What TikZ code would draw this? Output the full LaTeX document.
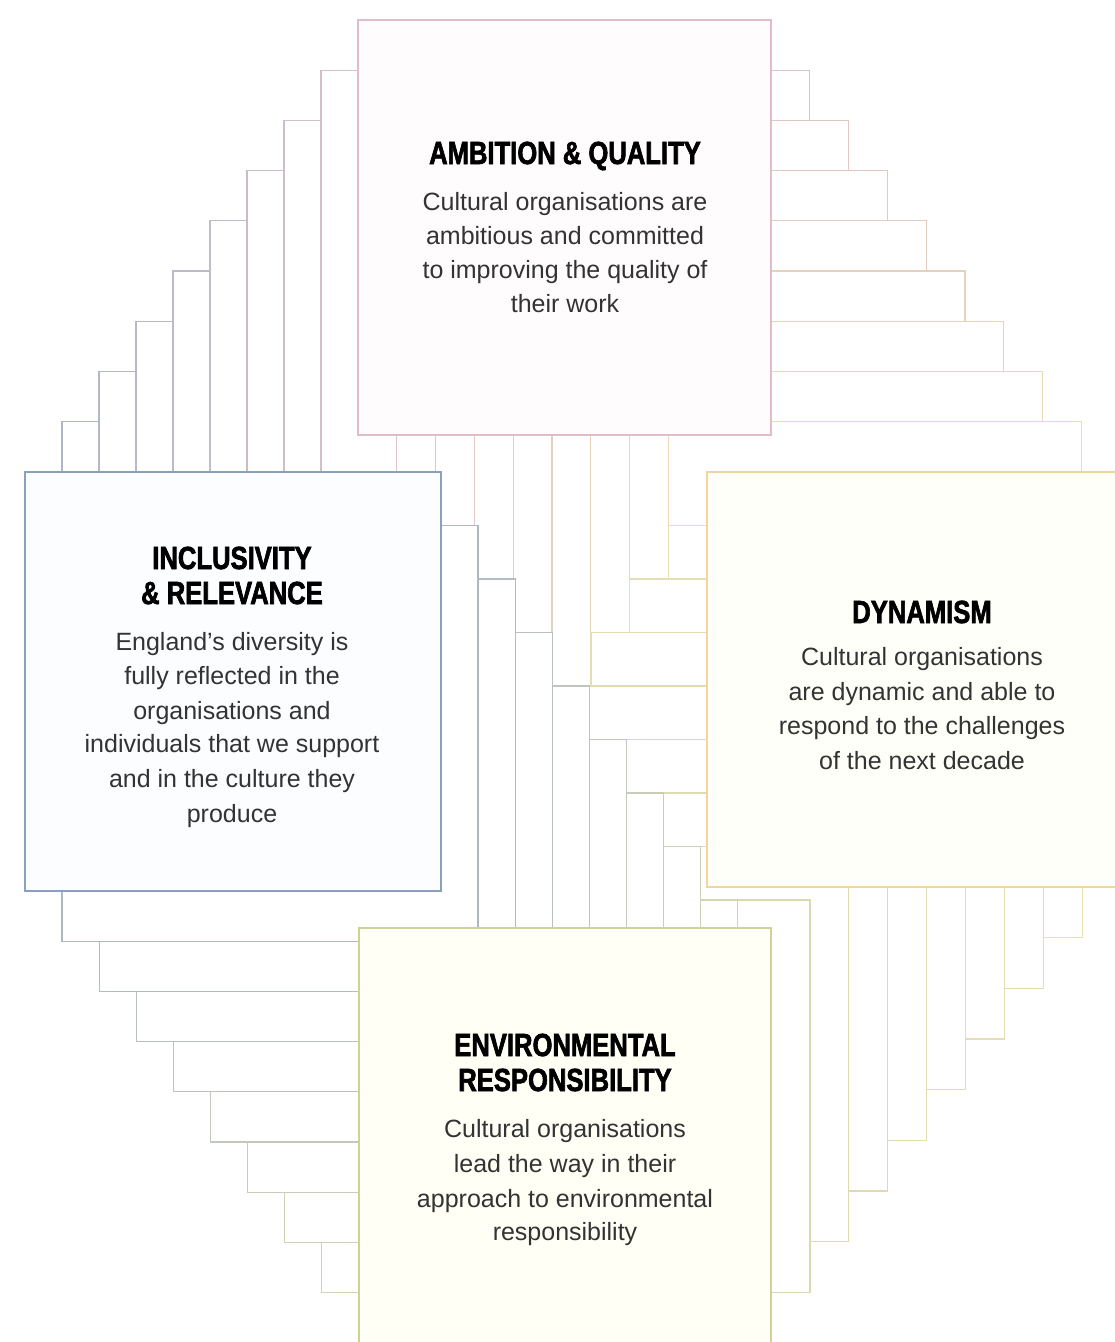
\documentclass[tikz,border=0pt]{standalone}
\usepackage{fontspec}
\setmainfont{Liberation Sans}
\newfontfamily\titlefont[FakeStretch=0.8,FakeBold=2]{Liberation Sans}
\definecolor{pinkB}{RGB}{226,188,200}
\definecolor{blueB}{RGB}{138,160,192}
\definecolor{goldB}{RGB}{240,214,158}
\definecolor{oliveB}{RGB}{206,210,148}
\definecolor{pinkL}{RGB}{218,192,202}
\definecolor{blueL}{RGB}{168,180,198}
\definecolor{goldL}{RGB}{236,222,180}
\definecolor{oliveL}{RGB}{216,218,176}
\definecolor{pinkF}{RGB}{254,252,253}
\definecolor{blueF}{RGB}{251,253,255}
\definecolor{goldF}{RGB}{255,255,250}
\definecolor{oliveF}{RGB}{255,255,246}
\tikzset{
  trail/.style={line width=1.3pt, fill=white},
  mainbox/.style={rectangle, line width=2.3pt, inner sep=0pt, outer sep=0pt, anchor=north west,
    minimum width=413pt, minimum height=415pt},
  ttl/.style={font=\titlefont\bfseries\fontsize{32}{35}\selectfont, text=black, anchor=base, inner sep=0pt},
  body/.style={font=\fontsize{25}{34}\selectfont, text=black!80, anchor=base, inner sep=0pt},
}
\begin{document}
\begin{tikzpicture}[x=1pt,y=-1pt]
\useasboundingbox (0,0) rectangle (1115,1342);
\fill[white] (0,0) rectangle (1115,1342);
\clip (0,0) rectangle (1115,1342);
% trail: top -> left (nearer top on top)
\foreach \i in {8,7,...,1}{
  \pgfmathsetmacro\xa{358-37*\i}
  \pgfmathsetmacro\ya{20+50.2*\i}
  \pgfmathtruncatemacro\p{100*\i/9}
  \colorlet{tc}{blueL!\p!pinkL}
  \draw[trail, draw=tc] (\xa,\ya) rectangle ++(413,415);
}
% trail: right -> top (nearer right on top)
\foreach \j in {1,...,8}{
  \pgfmathsetmacro\xa{358+38.8*\j}
  \pgfmathsetmacro\ya{20+50.2*\j}
  \pgfmathtruncatemacro\p{100*\j/9}
  \colorlet{tc}{goldL!\p!pinkL}
  \draw[trail, draw=tc] (\xa,\ya) rectangle ++(413,415);
}
% trail: bottom -> right (nearer bottom on top)
\foreach \m in {8,7,...,1}{
  \pgfmathsetmacro\xl{359+38.67*\m}
  \pgfmathsetmacro\xr{771+38.9*\m}
  \pgfmathsetmacro\yt{953.5-53.5*\m}
  \pgfmathsetmacro\yb{1343-50.67*\m}
  \pgfmathtruncatemacro\p{100*\m/9}
  \colorlet{tc}{goldL!\p!oliveL}
  \draw[trail, draw=tc] (\xl,\yt) rectangle (\xr,\yb);
}
% trail: left -> bottom (nearer left on top)
\foreach \k in {8,7,...,1}{
  \pgfmathsetmacro\xl{25+37.1*\k}
  \pgfmathsetmacro\xr{441+37.1*\k}
  \pgfmathsetmacro\yt{472+53.5*\k}
  \pgfmathsetmacro\yb{891+50.2*\k}
  \pgfmathtruncatemacro\p{100*\k/9}
  \colorlet{tc}{oliveL!\p!blueL}
  \draw[trail, draw=tc] (\xl,\yt) rectangle (\xr,\yb);
}
% main boxes
\node[mainbox, draw=pinkB, fill=pinkF] (amb) at (358,20) {};
\node[mainbox, draw=blueB, fill=blueF, minimum width=416pt, minimum height=419pt] (inc) at (25,472) {};
\node[mainbox, draw=goldB, fill=goldF, minimum width=414pt] (dyn) at (707,472) {};
\node[mainbox, draw=oliveB, fill=oliveF, minimum width=412pt] (env) at (359,928) {};
% texts: ambition
\node[ttl] (ambT) at (565,164) {AMBITION \& QUALITY};
\node[body] (amb1) at (565,210) {Cultural organisations are};
\node[body] (amb2) at (565,244) {ambitious and committed};
\node[body] (amb3) at (565,278) {to improving the quality of};
\node[body] (amb4) at (565,312) {their work};
% inclusivity
\node[ttl] (incT1) at (232,569) {INCLUSIVITY};
\node[ttl] (incT2) at (232,604) {\& RELEVANCE};
\node[body] (inc1) at (232,650) {England's diversity is};
\node[body] (inc2) at (232,684) {fully reflected in the};
\node[body] (inc3) at (232,719) {organisations and};
\node[body] (inc4) at (232,752) {individuals that we support};
\node[body] (inc5) at (232,787) {and in the culture they};
\node[body] (inc6) at (232,822) {produce};
% dynamism
\node[ttl] (dynT) at (922,623) {DYNAMISM};
\node[body] (dyn1) at (922,665) {Cultural organisations};
\node[body] (dyn2) at (922,700) {are dynamic and able to};
\node[body] (dyn3) at (922,734) {respond to the challenges};
\node[body] (dyn4) at (922,769) {of the next decade};
% environmental
\node[ttl] (envT1) at (565,1056) {ENVIRONMENTAL};
\node[ttl] (envT2) at (565,1091) {RESPONSIBILITY};
\node[body] (env1) at (565,1137) {Cultural organisations};
\node[body] (env2) at (565,1172) {lead the way in their};
\node[body] (env3) at (565,1207) {approach to environmental};
\node[body] (env4) at (565,1240) {responsibility};
\end{tikzpicture}
\end{document}
